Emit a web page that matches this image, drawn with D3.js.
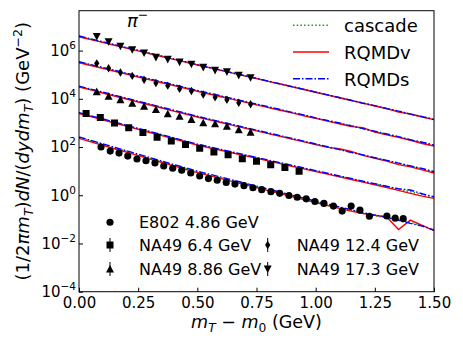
<!DOCTYPE html>
<html>
<head>
<meta charset="utf-8">
<script src="https://cdn.jsdelivr.net/npm/d3@7"></script>
<style>
  body { margin: 0; background: #fff; }
  svg { font-family: "DejaVu Sans", sans-serif; }
</style>
</head>
<body>
<div id="chart"></div>
<script>
// m_T - m_0 grid for the model curves (GeV)
const mtGrid = [0, 0.05, 0.1, 0.15, 0.2, 0.25, 0.3, 0.35, 0.4, 0.45, 0.5, 0.55, 0.6, 0.65, 0.7, 0.75,
  0.8, 0.85, 0.9, 0.95, 1, 1.05, 1.1, 1.15, 1.2, 1.25, 1.3, 1.35, 1.4, 1.45, 1.5];

// model curves, one array per model and beam energy
const cascadeE802 = [245, 177, 127, 91.8, 66.2, 47.6, 34.4, 24.8, 17.8, 12.9, 9.44, 7.10, 5.32, 4.00, 3.00, 2.25,
  1.69, 1.27, 0.953, 0.716, 0.537, 0.409, 0.312, 0.240, 0.185, 0.142, 0.118, 0.095, 0.075, 0.055, 0.037];
const rqmdvE802 = [228, 163, 117, 84.5, 61, 43.8, 31.6, 22.8, 16.4, 11.9, 8.7, 6.55, 4.9, 3.68, 2.76, 2.07,
  1.55, 1.17, 0.877, 0.66, 0.494, 0.376, 0.287, 0.219, 0.175, 0.148, 0.125, 0.038, 0.093, 0.056, 0.034];
const rqmdsE802 = [260, 188, 135, 97.3, 70.2, 50.5, 36.5, 26.3, 18.9, 13.7, 10.0, 7.5, 5.65, 4.25, 3.18, 2.39,
  1.79, 1.35, 1.01, 0.76, 0.57, 0.434, 0.331, 0.252, 0.19, 0.15, 0.122, 0.092, 0.068, 0.053, 0.036];

const cascade64 = [2570, 1900, 1410, 1040, 769, 569, 421, 311, 230, 170, 126, 97.8, 76, 59.1, 45.9, 35.7,
  27.7, 21.6, 16.7, 13.0, 10.1, 7.9, 6.2, 4.8, 3.75, 2.9, 2.3, 1.8, 1.4, 1.08, 0.84];
const rqmdv64 = [2450, 1810, 1340, 990, 735, 543, 402, 297, 220, 162, 120, 93, 72.5, 56.5, 44, 34,
  26.5, 20.6, 16, 12.4, 9.6, 7.5, 5.8, 4.5, 3.5, 2.7, 2.1, 1.6, 1.2, 0.92, 0.74];
const rqmds64 = [2680, 1980, 1470, 1080, 800, 592, 438, 324, 240, 177, 131, 102, 79, 61.5, 47.8, 37.2,
  28.8, 22.5, 17.4, 13.5, 10.5, 8.2, 6.3, 5.0, 3.8, 3.0, 2.35, 1.85, 1.65, 1.15, 0.86];

const cascade886 = [3.24e4, 2.43e4, 1.82e4, 1.36e4, 1.02e4, 7670, 5750, 4320, 3240, 2430, 1820, 1400, 1070, 825, 634, 487,
  374, 287, 221, 170, 130, 100, 80, 61, 46, 35.5, 27.5, 21.5, 16.2, 12.3, 9.2];
const rqmdv886 = [3.1e4, 2.33e4, 1.74e4, 1.30e4, 9800, 7350, 5500, 4150, 3100, 2330, 1750, 1350, 1030, 795, 610, 470,
  360, 276, 212, 163, 125, 97, 85, 66, 45, 34, 26, 18.5, 15.0, 11.2, 8.4];
const rqmds886 = [3.35e4, 2.52e4, 1.89e4, 1.41e4, 1.06e4, 7950, 5950, 4470, 3350, 2520, 1880, 1440, 1110, 850, 655, 503,
  386, 296, 228, 175, 134, 103, 78, 60, 47, 36, 28, 21.5, 16.5, 12.8, 9.6];

const cascade124 = [3.31e5, 2.52e5, 1.91e5, 1.46e5, 1.11e5, 8.41e4, 6.40e4, 4.86e4, 3.70e4, 2.81e4, 2.14e4, 1.65e4, 1.27e4, 9790, 7550, 5820,
  4490, 3460, 2670, 2060, 1580, 1250, 950, 790, 570, 430, 340, 262, 196, 154, 119];
const rqmdv124 = [3.15e5, 2.40e5, 1.82e5, 1.39e5, 1.06e5, 8.0e4, 6.1e4, 4.65e4, 3.55e4, 2.70e4, 2.05e4, 1.58e4, 1.22e4, 9400, 7300, 5600,
  4300, 3350, 2600, 1980, 1550, 1180, 920, 700, 640, 415, 320, 250, 190, 140, 110];
const rqmds124 = [3.45e5, 2.62e5, 1.99e5, 1.52e5, 1.15e5, 8.75e4, 6.65e4, 5.05e4, 3.85e4, 2.92e4, 2.22e4, 1.71e4, 1.32e4, 1.02e4, 7800, 6050,
  4650, 3600, 2750, 2150, 1620, 1260, 990, 750, 580, 450, 345, 270, 200, 158, 120];

const cascade173 = [3.89e6, 2.96e6, 2.26e6, 1.72e6, 1.31e6, 1.00e6, 7.62e5, 5.81e5, 4.43e5, 3.37e5, 2.57e5, 1.98e5, 1.52e5, 1.17e5, 9.04e4, 6.96e4,
  5.36e4, 4.13e4, 3.18e4, 2.45e4, 1.88e4, 1.45e4, 1.12e4, 8600, 6800, 5100, 3930, 3100, 2330, 1850, 1420];
const rqmdv173 = [3.75e6, 2.85e6, 2.18e6, 1.66e6, 1.27e6, 9.7e5, 7.4e5, 5.65e5, 4.33e5, 3.3e5, 2.52e5, 1.95e5, 1.5e5, 1.16e5, 8.9e4, 6.9e4,
  5.3e4, 4.1e4, 3.15e4, 2.43e4, 1.87e4, 1.44e4, 1.11e4, 8500, 6600, 5000, 3950, 2800, 2350, 1750, 1360];
const rqmds173 = [4.0e6, 3.05e6, 2.32e6, 1.76e6, 1.34e6, 1.02e6, 7.8e5, 5.9e5, 4.5e5, 3.42e5, 2.6e5, 2.0e5, 1.54e5, 1.18e5, 9.1e4, 7.0e4,
  5.4e4, 4.15e4, 3.2e4, 2.47e4, 1.9e4, 1.46e4, 1.13e4, 8700, 6500, 5200, 3900, 3100, 2300, 1820, 1370];

// measured pi- spectra
const e802X = [0.093, 0.132, 0.169, 0.206, 0.245, 0.283, 0.321, 0.358, 0.396, 0.434, 0.472, 0.510, 0.547, 0.584, 0.622, 0.659, 0.697,
  0.735, 0.772, 0.811, 0.848, 0.887, 0.922, 0.960, 0.997, 1.035, 1.075, 1.112, 1.150, 1.187, 1.227, 1.301, 1.336, 1.370];
const e802Y = [100, 68, 56, 42, 32, 27, 22, 16.3, 13.1, 10.9, 8.4, 6.3, 4.9, 4.2, 3.4, 2.9, 2.5,
  2.05, 1.7, 1.41, 1.2, 0.98, 0.83, 0.71, 0.55, 0.46, 0.355, 0.22, 0.355, 0.24, 0.135, 0.138, 0.112, 0.107];
const na49_64X = [0.03, 0.09, 0.15, 0.21, 0.27, 0.33, 0.39, 0.45, 0.51, 0.57, 0.63, 0.69, 0.75, 0.81, 0.87, 0.93];
const na49_64Y = [2450, 1660, 980, 630, 400, 257, 178, 126, 89, 62, 48, 33, 26, 18.6, 14.1, 9.8];
const na49X = [0.075, 0.125, 0.175, 0.225, 0.275, 0.325, 0.375, 0.425, 0.475, 0.525, 0.575, 0.625, 0.675, 0.725];
const na49_886Y = [2.0e4, 1.29e4, 9300, 6600, 5000, 3600, 2400, 1900, 1410, 1020, 930, 740, 525, 417];
const na49_124Y = [2.95e5, 1.86e5, 1.23e5, 8.9e4, 6.2e4, 4.5e4, 3.5e4, 2.6e4, 2.1e4, 1.5e4, 1.15e4, 9100, 6900, 5900];
const na49_173Y = [3.8e6, 2.3e6, 1.5e6, 1.07e6, 7.9e5, 5.2e5, 4.3e5, 3.3e5, 2.7e5, 2.0e5, 1.5e5, 1.3e5, 9.3e4, 7.4e4];

const modelNames = ["cascade", "RQMDv", "RQMDs"];
const dataLabels = ["E802 4.86 GeV", "NA49 6.4 GeV", "NA49 8.86 GeV", "NA49 12.4 GeV", "NA49 17.3 GeV"];

const xTicks = [0, 0.25, 0.5, 0.75, 1.0, 1.25, 1.5];
const yTicks = [1e-4, 1e-2, 1, 1e2, 1e4, 1e6];
const yTickExp = ["\u22124", "\u22122", "0", "2", "4", "6"];

// ---- styles ----
const modelStyle = {
  cascade: { color: "#1a9a1a", dash: "1.5,2.2" },
  RQMDv: { color: "#ff0000", dash: null },
  RQMDs: { color: "#0000ff", dash: "7,2,1.5,2" }
};

const width = 463, height = 347;
const plotLeft = 79, plotRight = 434, plotTop = 10.7, plotBottom = 291.7;

const x = d3.scaleLinear().domain([0, 1.5]).range([plotLeft, plotRight]);
const y = d3.scaleLog().domain([1e-4, 4.5e7]).range([plotBottom, plotTop]);

const svg = d3.select("#chart")
  .append("svg")
  .attr("width", width)
  .attr("height", height);

svg.append("rect").attr("width", width).attr("height", height).attr("fill", "#fff");

svg.append("clipPath").attr("id", "plotclip")
  .append("rect")
  .attr("x", plotLeft).attr("y", plotTop)
  .attr("width", plotRight - plotLeft).attr("height", plotBottom - plotTop);

const curves = [
  [cascadeE802, rqmdvE802, rqmdsE802],
  [cascade64, rqmdv64, rqmds64],
  [cascade886, rqmdv886, rqmds886],
  [cascade124, rqmdv124, rqmds124],
  [cascade173, rqmdv173, rqmds173]
];

const line = d3.line()
  .x((d, i) => x(mtGrid[i]))
  .y((d) => y(d));

const curveLayer = svg.append("g").attr("clip-path", "url(#plotclip)");

// draw cascade first, then RQMDv, RQMDs on top
modelNames.forEach((name, m) => {
  curves.forEach((set) => {
    curveLayer.append("path")
      .attr("d", line(set[m]))
      .attr("fill", "none")
      .attr("stroke", modelStyle[name].color)
      .attr("stroke-width", 1.4)
      .attr("stroke-dasharray", modelStyle[name].dash);
  });
});

// marker shapes
const markerPath = {
  circle: d3.symbol(d3.symbolCircle, 40)(),
  square: "M-3.5,-3.5h7v7h-7Z",
  tri: "M0,-4L-4,3.6L4,3.6Z",
  tridown: "M0,4L-4,-3.6L4,-3.6Z",
  thind: "M0,-4.2L2.6,0L0,4.2L-2.6,0Z"
};

const pointSets = [
  { xs: e802X, ys: e802Y, shape: "circle", bar: false },
  { xs: na49_64X, ys: na49_64Y, shape: "square", bar: true },
  { xs: na49X, ys: na49_886Y, shape: "tri", bar: true },
  { xs: na49X, ys: na49_124Y, shape: "thind", bar: true },
  { xs: na49X, ys: na49_173Y, shape: "tridown", bar: true }
];

const pointLayer = svg.append("g").attr("clip-path", "url(#plotclip)");
pointSets.forEach((ps) => {
  pointLayer.selectAll(null)
    .data(ps.ys)
    .enter()
    .append("path")
    .attr("d", markerPath[ps.shape])
    .attr("transform", (d, i) => "translate(" + x(ps.xs[i]) + "," + y(d) + ")")
    .attr("fill", "#000");
});

// axes
const xAxis = svg.append("g")
  .attr("transform", "translate(0," + plotBottom + ")")
  .call(d3.axisBottom(x).tickValues(xTicks).tickSize(-4).tickPadding(6).tickFormat(d3.format(".2f")));

const yAxis = svg.append("g")
  .attr("transform", "translate(" + plotLeft + ",0)")
  .call(d3.axisLeft(y).tickValues(yTicks).tickSize(-4).tickPadding(3).tickFormat(""));

[xAxis, yAxis].forEach((g) => {
  g.select(".domain").remove();
  g.selectAll(".tick line").attr("stroke", "#000").attr("stroke-width", 1);
  g.selectAll(".tick text")
    .attr("fill", "#000")
    .attr("font-size", 15)
    .attr("font-family", "DejaVu Sans");
});

yAxis.selectAll(".tick text").each(function(d, i) {
  const t = d3.select(this);
  t.append("tspan").text("10");
  t.append("tspan").attr("dy", -7).attr("font-size", 10.5).text(yTickExp[i]);
});

// frame
svg.append("rect")
  .attr("x", plotLeft).attr("y", plotTop)
  .attr("width", plotRight - plotLeft).attr("height", plotBottom - plotTop)
  .attr("fill", "none")
  .attr("stroke", "#000")
  .attr("stroke-width", 1);

// axis labels
const xl = svg.append("text")
  .attr("x", (plotLeft + plotRight) / 2)
  .attr("y", 328)
  .attr("text-anchor", "middle")
  .attr("font-size", 17.5);
xl.append("tspan").attr("font-style", "italic").text("m");
xl.append("tspan").attr("font-style", "italic").attr("font-size", 12.3).attr("dy", 4).text("T");
xl.append("tspan").attr("dy", -4).text(" \u2212 ");
xl.append("tspan").attr("font-style", "italic").text("m");
xl.append("tspan").attr("font-size", 12.3).attr("dy", 4).text("0");
xl.append("tspan").attr("dy", -4).text(" (GeV)");

const yl = svg.append("text")
  .attr("transform", "translate(29," + ((plotTop + plotBottom) / 2) + ") rotate(-90)")
  .attr("text-anchor", "middle")
  .attr("font-size", 18);
yl.append("tspan").text("(1/2");
yl.append("tspan").attr("font-style", "italic").text("\u03c0m");
yl.append("tspan").attr("font-style", "italic").attr("font-size", 12.6).attr("dy", 4).text("T");
yl.append("tspan").attr("dy", -4).text(")");
yl.append("tspan").attr("font-style", "italic").text("dN");
yl.append("tspan").text("/(");
yl.append("tspan").attr("font-style", "italic").text("dydm");
yl.append("tspan").attr("font-style", "italic").attr("font-size", 12.6).attr("dy", 4).text("T");
yl.append("tspan").attr("dy", -4).text(") (GeV");
yl.append("tspan").attr("font-size", 12.6).attr("dy", -7).text("\u22122");
yl.append("tspan").attr("dy", 7).text(")");

// particle label
const pl = svg.append("text")
  .attr("x", 127)
  .attr("y", 27)
  .attr("font-size", 18);
pl.append("tspan").attr("font-style", "italic").text("\u03c0");
pl.append("tspan").attr("font-size", 12.6).attr("dy", -8).text("\u2212");

// model legend
const legModel = svg.append("g");
modelNames.forEach((name, i) => {
  const ly = 25.3 + i * 26.7;
  legModel.append("line")
    .attr("x1", 293).attr("x2", 329)
    .attr("y1", ly).attr("y2", ly)
    .attr("stroke", modelStyle[name].color)
    .attr("stroke-width", 1.4)
    .attr("stroke-dasharray", modelStyle[name].dash);
  legModel.append("text")
    .attr("x", 344)
    .attr("y", ly + 6.8)
    .attr("font-size", 18)
    .text(name);
});

// data legend
const legPos = [[110, 222.3], [110, 245], [110, 269], [267.7, 245], [267.7, 269]];
const legData = svg.append("g");
pointSets.forEach((ps, i) => {
  const [lx, ly] = legPos[i];
  if (ps.bar) {
    legData.append("line")
      .attr("x1", lx).attr("x2", lx)
      .attr("y1", ly - 7).attr("y2", ly + 7)
      .attr("stroke", "#000")
      .attr("stroke-width", 1);
  }
  legData.append("path")
    .attr("d", markerPath[ps.shape])
    .attr("transform", "translate(" + lx + "," + ly + ")")
    .attr("fill", "#000");
  legData.append("text")
    .attr("x", lx + 29)
    .attr("y", ly + 6)
    .attr("font-size", 16)
    .text(dataLabels[i]);
});
</script>
</body>
</html>
